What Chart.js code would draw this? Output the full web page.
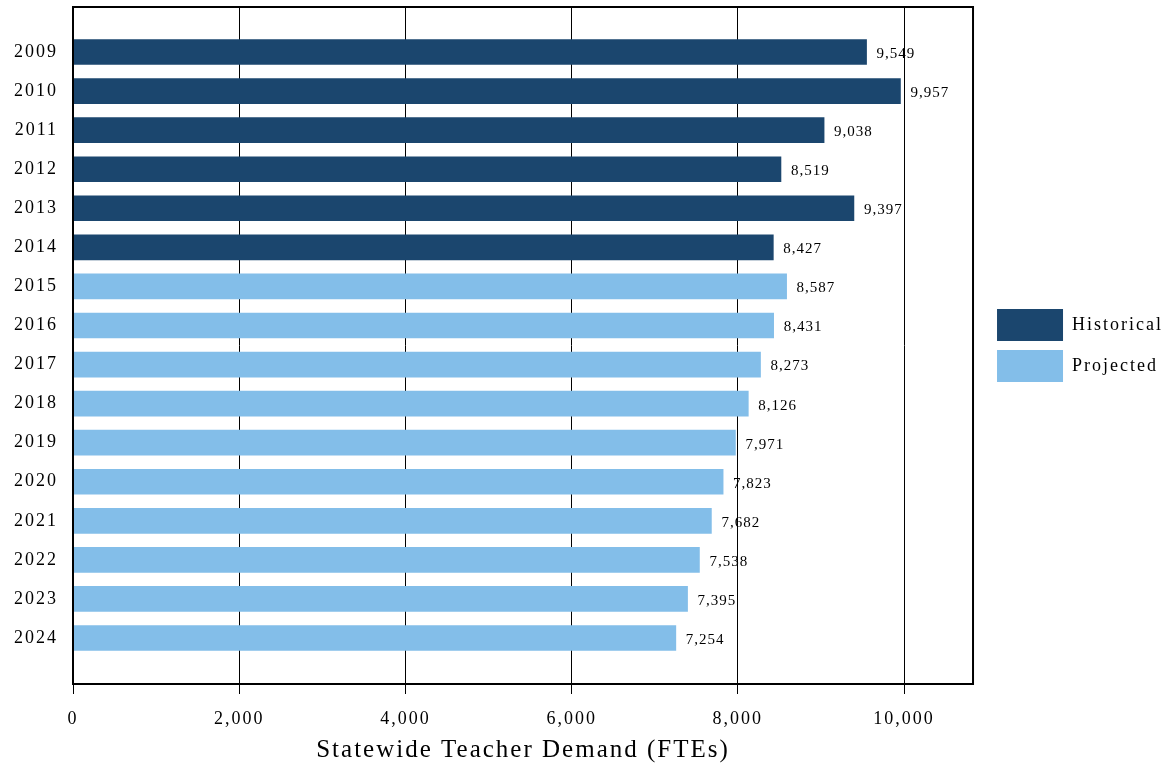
<!DOCTYPE html>
<html>
<head>
    <title>Statewide Teacher Demand</title>
    <script src="https://cdn.jsdelivr.net/npm/chart.js"></script>
    <style>
        body { margin: 0; background: #fff; }
        #wrap { width: 1176px; height: 765px; }
    </style>
</head>
<body>
    <div id="wrap"><canvas id="demandChart"></canvas></div>
    <script>
        const years = [2009, 2010, 2011, 2012, 2013, 2014, 2015, 2016,
                       2017, 2018, 2019, 2020, 2021, 2022, 2023, 2024];
        const historicalYears = years.slice(0, 6);
        const projectedYears = years.slice(6);
        const historical = [9549, 9957, 9038, 8519, 9397, 8427];
        const projected = [8587, 8431, 8273, 8126, 7971, 7823, 7682, 7538, 7395, 7254];
        const xTicks = [0, 2000, 4000, 6000, 8000, 10000];

        const serif = "'Liberation Serif', 'Times New Roman', serif";
        Chart.defaults.font.family = serif;
        Chart.defaults.color = '#000';

        // canvas letter spacing for axis text and legend
        const spacing = {
            id: 'spacing',
            beforeLayout(chart) { chart.ctx.letterSpacing = '2px'; },
            beforeDraw(chart) { chart.ctx.letterSpacing = '2px'; }
        };

        // value labels at bar ends, then the box round the plot
        const labelsAndFrame = {
            id: 'labelsAndFrame',
            afterDatasetsDraw(chart) {
                const ctx = chart.ctx;
                ctx.save();
                ctx.letterSpacing = '1px';
                ctx.font = '15px ' + serif;
                ctx.fillStyle = '#000';
                ctx.textBaseline = 'middle';
                chart.data.datasets.forEach((ds, i) => {
                    chart.getDatasetMeta(i).data.forEach((bar, j) => {
                        ctx.fillText(ds.data[j].x.toLocaleString('en-US'), bar.x + 10, bar.y + 2);
                    });
                });
                const a = chart.chartArea;
                ctx.strokeStyle = '#000';
                ctx.lineWidth = 2;
                ctx.strokeRect(a.left, a.top, a.right - a.left, a.bottom - a.top);
                ctx.restore();
            }
        };

        const toPoints = (vals, ys) => vals.map((v, i) => ({ x: v, y: ys[i] }));

        new Chart(document.getElementById('demandChart'), {
            type: 'bar',
            data: {
                datasets: [
                    {
                        label: 'Historical',
                        data: toPoints(historical, historicalYears),
                        backgroundColor: '#1b466e',
                        borderWidth: 0
                    },
                    {
                        label: 'Projected',
                        data: toPoints(projected, projectedYears),
                        backgroundColor: '#83bee9',
                        borderWidth: 0
                    }
                ]
            },
            options: {
                indexAxis: 'y',
                responsive: true,
                maintainAspectRatio: false,
                animation: false,
                grouped: false,
                barThickness: 25,
                layout: { padding: { top: 7, right: 3, left: 0, bottom: 0 } },
                scales: {
                    x: {
                        type: 'linear',
                        min: 0,
                        max: 10830,
                        afterBuildTicks: scale => { scale.ticks = xTicks.map(v => ({ value: v })); },
                        afterFit: scale => {
                            scale.height = 81;
                            scale.paddingLeft = 0;
                            scale.paddingRight = 0;
                        },
                        grid: { color: '#000', lineWidth: 1, tickLength: 10, drawTicks: true },
                        border: { display: false },
                        ticks: {
                            font: { size: 18 },
                            padding: 14,
                            maxRotation: 0,
                            callback: v => v.toLocaleString('en-US')
                        },
                        title: {
                            display: true,
                            text: 'Statewide Teacher Demand (FTEs)',
                            font: { size: 25 },
                            padding: { top: 0, bottom: 0 }
                        }
                    },
                    y: {
                        type: 'linear',
                        reverse: true,
                        offset: false,
                        min: 2007.848,
                        max: 2025.177,
                        afterBuildTicks: scale => { scale.ticks = years.map(v => ({ value: v })); },
                        afterFit: scale => {
                            scale.width = 73;
                            scale.paddingTop = 0;
                            scale.paddingBottom = 0;
                        },
                        grid: { display: false },
                        border: { display: false },
                        ticks: {
                            font: { size: 18 },
                            padding: 7,
                            autoSkip: false,
                            callback: v => String(v)
                        }
                    },
                    gap: {
                        type: 'linear',
                        position: 'right',
                        display: true,
                        afterFit: scale => {
                            scale.width = 15;
                            scale.paddingTop = 0;
                            scale.paddingBottom = 0;
                        },
                        grid: { display: false },
                        border: { display: false },
                        ticks: { display: false }
                    }
                },
                plugins: {
                    legend: {
                        position: 'right',
                        fullSize: false,
                        align: 'center',
                        labels: {
                            boxWidth: 66,
                            boxHeight: 32,
                            padding: 9,
                            font: { size: 18 },
                            color: '#000'
                        }
                    },
                    tooltip: { enabled: false }
                }
            },
            plugins: [spacing, labelsAndFrame]
        });
    </script>
</body>
</html>
